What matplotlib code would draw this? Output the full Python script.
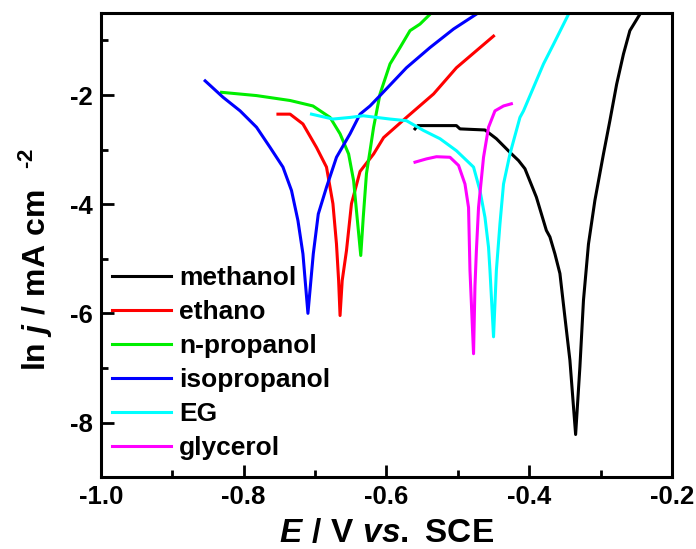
import numpy as np
import matplotlib
matplotlib.use("Agg")
import matplotlib.pyplot as plt
from matplotlib.ticker import MultipleLocator, FormatStrFormatter

plt.rcParams['font.family'] = 'Liberation Sans'
plt.rcParams['font.weight'] = 'bold'
plt.rcParams['axes.unicode_minus'] = False
plt.rcParams['mathtext.fontset'] = 'custom'
plt.rcParams['mathtext.rm'] = 'Liberation Sans:bold'
plt.rcParams['mathtext.bf'] = 'Liberation Sans:bold'
plt.rcParams['mathtext.it'] = 'Liberation Sans:italic:bold'
plt.rcParams['mathtext.default'] = 'rm'

# Tafel curves (E in V vs SCE, ln j)
E_methanol = [-0.560, -0.556, -0.530, -0.502, -0.497, -0.480, -0.462, -0.446, -0.427, -0.415,
              -0.406, -0.390, -0.376, -0.371, -0.364, -0.357, -0.350, -0.343, -0.335,
              -0.329, -0.324, -0.317, -0.308, -0.296, -0.287, -0.2775, -0.268, -0.259, -0.245, -0.242]
j_methanol = [-2.62, -2.56, -2.56, -2.56, -2.62, -2.63, -2.64, -2.80, -3.05, -3.20,
              -3.35, -3.87, -4.48, -4.60, -4.91, -5.27, -6.07, -6.86, -8.22,
              -6.98, -5.76, -4.73, -3.93, -3.08, -2.47, -1.80, -1.25, -0.82, -0.52, -0.45]

E_ethanol = [-0.752, -0.735, -0.717, -0.698, -0.684, -0.675, -0.670, -0.667, -0.665, -0.662,
             -0.656, -0.649, -0.637, -0.618, -0.604, -0.572, -0.534, -0.502, -0.450]
j_ethanol = [-2.35, -2.35, -2.53, -2.96, -3.32, -3.99, -4.73, -5.40, -6.04, -5.40,
             -4.85, -3.99, -3.40, -3.08, -2.78, -2.41, -1.98, -1.50, -0.92]

E_npropanol = [-0.831, -0.782, -0.735, -0.703, -0.679, -0.665, -0.653, -0.646, -0.642, -0.636,
               -0.6325, -0.628, -0.623, -0.618, -0.609, -0.595, -0.581, -0.567, -0.553, -0.539]
j_npropanol = [-1.95, -2.01, -2.10, -2.20, -2.41, -2.71, -3.08, -3.57, -4.12, -4.94,
               -4.24, -3.44, -3.02, -2.59, -1.98, -1.43, -1.13, -0.82, -0.70, -0.52]

E_isopropanol = [-0.854, -0.829, -0.805, -0.782, -0.763, -0.745, -0.733, -0.724, -0.717, -0.710,
                 -0.7025, -0.6955, -0.684, -0.670, -0.651, -0.637, -0.623, -0.609, -0.572, -0.539,
                 -0.506, -0.472]
j_isopropanol = [-1.74, -2.04, -2.29, -2.59, -2.96, -3.32, -3.75, -4.30, -4.91, -6.00,
                 -4.91, -4.18, -3.69, -3.14, -2.71, -2.35, -2.20, -2.01, -1.50, -1.13,
                 -0.79, -0.50]

E_EG = [-0.705, -0.675, -0.651, -0.6325, -0.595, -0.572, -0.548, -0.525, -0.502, -0.478,
        -0.469, -0.462, -0.457, -0.455, -0.450, -0.446, -0.441, -0.436, -0.427, -0.418,
        -0.413, -0.408, -0.394, -0.380, -0.366, -0.345]
j_EG = [-2.35, -2.44, -2.41, -2.38, -2.44, -2.47, -2.65, -2.80, -3.02, -3.32,
        -3.75, -4.24, -4.79, -5.21, -6.43, -5.21, -4.36, -3.63, -3.08, -2.65,
        -2.41, -2.29, -1.86, -1.43, -1.07, -0.52]

E_glycerol = [-0.560, -0.544, -0.530, -0.511, -0.499, -0.490, -0.485, -0.483, -0.478, -0.476,
              -0.474, -0.471, -0.464, -0.457, -0.448, -0.436, -0.425]
j_glycerol = [-3.23, -3.17, -3.13, -3.14, -3.29, -3.63, -4.06, -5.21, -6.74, -5.50,
              -4.85, -4.06, -3.14, -2.59, -2.29, -2.20, -2.16]

labels = ['methanol', 'ethano', 'n-propanol', 'isopropanol', 'EG', 'glycerol']
colors = ['#000000', '#ff0000', '#00ee00', '#0000ff', '#00ffff', '#ff00ff']
curves = [(E_methanol, j_methanol), (E_ethanol, j_ethanol), (E_npropanol, j_npropanol),
          (E_isopropanol, j_isopropanol), (E_EG, j_EG), (E_glycerol, j_glycerol)]

fig = plt.figure(figsize=(6.96, 5.49), dpi=100)
ax = fig.add_axes([0.145, 0.131, 0.8205, 0.845])

for (E, j), lab, c in zip(curves, labels, colors):
    ax.plot(E, j, color=c, lw=2.2, label=lab, solid_joinstyle='round')

ax.set_xlim(-1.0, -0.2)
ax.set_ylim(-9.0, -0.5)
ax.xaxis.set_major_locator(MultipleLocator(0.2))
ax.xaxis.set_minor_locator(MultipleLocator(0.1))
ax.xaxis.set_major_formatter(FormatStrFormatter('%.1f'))
ax.yaxis.set_major_locator(MultipleLocator(2))
ax.yaxis.set_minor_locator(MultipleLocator(1))
ax.yaxis.set_major_formatter(FormatStrFormatter('%d'))
ax.tick_params(which='both', direction='in', width=2, labelsize=18.5, pad=6)
ax.tick_params(which='major', length=9)
ax.tick_params(which='minor', length=5)
for s in ax.spines.values():
    s.set_linewidth(2.2)

ax.set_xlabel(r'$\mathit{E}\ \mathrm{/\ V}\ \mathit{vs.}\mathrm{\ SCE}$', fontsize=24, labelpad=6)
ax.set_ylabel(r'$\mathrm{ln}\ \mathit{j}\ \mathrm{/\ mA\ cm}^{\ \ \ \text{-2}}$', fontsize=23)
ax.yaxis.set_label_coords(-0.08, 0.47)

ax.legend(loc='center left', bbox_to_anchor=(0.0187, 0.2455), frameon=False,
          fontsize=19, handlelength=2.25, handletextpad=0.3, labelspacing=0.38,
          borderpad=0, borderaxespad=0)

fig.savefig('out.png', dpi=100)
